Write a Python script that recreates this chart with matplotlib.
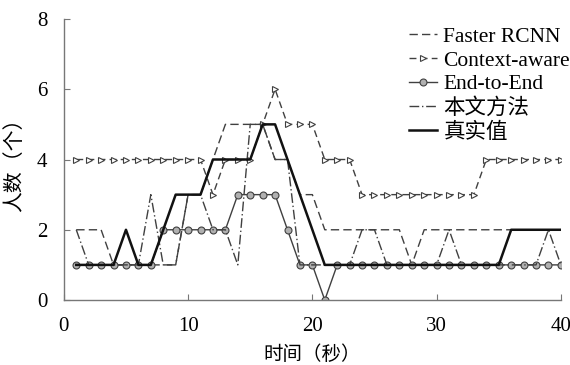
import matplotlib
matplotlib.use("Agg")
import matplotlib.pyplot as plt

plt.rcParams['font.family'] = ['Liberation Serif', 'Noto Sans CJK SC']

# 时间（秒）
t = list(range(1, 41))

faster_rcnn = [2, 2, 2, 1, 1, 1, 1, 1, 1, 3,
               3, 4, 5, 5, 5, 5, 4, 4, 3, 3,
               2, 2, 2, 2, 2, 2, 2, 1, 2, 2,
               2, 2, 2, 2, 2, 2, 2, 2, 2, 2]
context_aware = [4, 4, 4, 4, 4, 4, 4, 4, 4, 4,
                 4, 3, 4, 4, 4, 5, 6, 5, 5, 5,
                 4, 4, 4, 3, 3, 3, 3, 3, 3, 3,
                 3, 3, 3, 4, 4, 4, 4, 4, 4, 4]
end_to_end = [1, 1, 1, 1, 1, 1, 1, 2, 2, 2,
              2, 2, 2, 3, 3, 3, 3, 2, 1, 1,
              0, 1, 1, 1, 1, 1, 1, 1, 1, 1,
              1, 1, 1, 1, 1, 1, 1, 1, 1, 1]
ours = [2, 1, 1, 1, 1, 1, 3, 1, 1, 3,
        3, 2, 2, 1, 5, 5, 4, 4, 1, 1,
        1, 1, 1, 2, 2, 1, 1, 1, 1, 1,
        2, 1, 1, 1, 1, 1, 1, 1, 2, 1]
truth = [1, 1, 1, 1, 2, 1, 1, 2, 3, 3,
         3, 4, 4, 4, 4, 5, 5, 4, 3, 2,
         1, 1, 1, 1, 1, 1, 1, 1, 1, 1,
         1, 1, 1, 1, 1, 2, 2, 2, 2, 2]

labels = ['Faster RCNN', 'Context-aware', 'End-to-End', '本文方法', '真实值']

fig = plt.figure(figsize=(5.7, 3.65), dpi=100)
ax = fig.add_axes([0.112, 0.178, 0.872, 0.77])

c = '#404040'
ax.plot(t, faster_rcnn, color=c, lw=1.0, ls=(0, (6, 3)), label=labels[0])
ax.plot(t, context_aware, color=c, lw=1.0, ls=(0, (5, 3)), marker='>',
        ms=5, mfc='white', mec=c, mew=0.8, label=labels[1])
ax.plot(t, end_to_end, color=c, lw=1.0, marker='o', ms=5, mfc='#b0b0b0',
        mec=c, mew=0.8, label=labels[2])
ax.plot(t, ours, color=c, lw=1.0, ls=(0, (7, 2, 1, 2)), label=labels[3])
ax.plot(t, truth, color='#111111', lw=1.8, label=labels[4])

ax.set_xlim(0, 40)
ax.set_ylim(0, 8)
ax.set_xticks([0, 10, 20, 30, 40])
ax.set_yticks([0, 2, 4, 6, 8])
ax.tick_params(direction='in', labelsize=15, length=4, color='#777777')
ax.tick_params(axis='x', pad=12)
ax.tick_params(axis='y', pad=12)
for s in ['top', 'right']:
    ax.spines[s].set_visible(False)
for s in ['left', 'bottom']:
    ax.spines[s].set_color('#777777')
    ax.spines[s].set_linewidth(1.0)

ax.set_xlabel('时间（秒）', fontsize=14, labelpad=7)
ax.set_ylabel('人数（个）', fontsize=15, labelpad=8)

ax.legend(loc='upper right', bbox_to_anchor=(1.04, 1.01), frameon=False,
          fontsize=15.5, handlelength=1.3, handletextpad=0.3,
          labelspacing=0.17, borderaxespad=0.1)

fig.savefig('out.png', dpi=100)
